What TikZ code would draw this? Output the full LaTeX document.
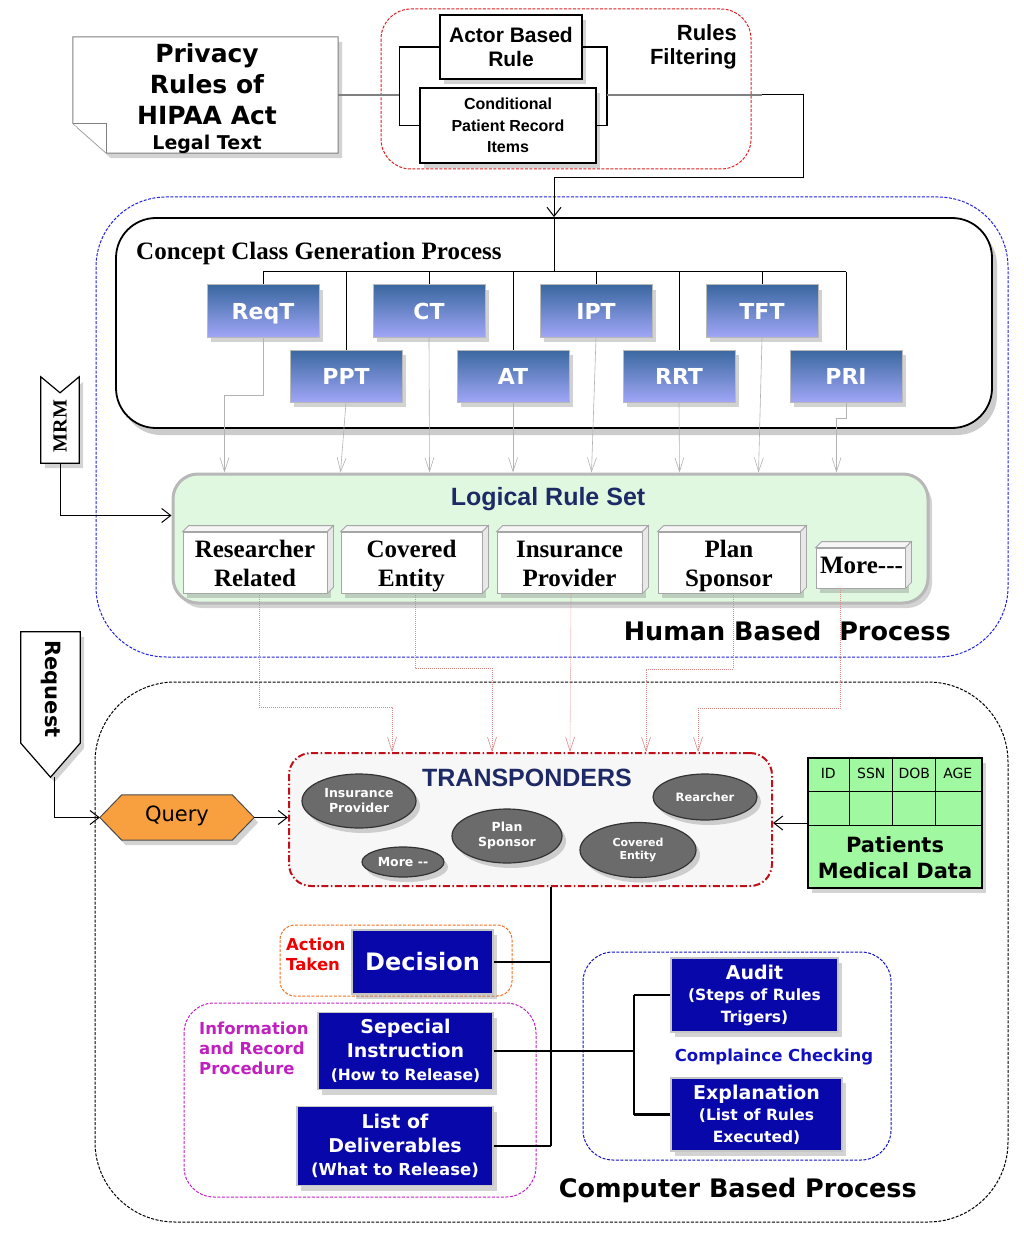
\documentclass[tikz,border=0pt]{standalone}
\usepackage{fontspec}
\setmainfont{Liberation Serif}
\newfontfamily\dvs{DejaVu Sans}
\newfontfamily\lsans{Liberation Sans}
\usetikzlibrary{arrows.meta,shadows,calc,shapes.geometric}
\newcommand\fsz[2]{\fontsize{#1}{#2}\selectfont}
\definecolor{ccTop}{HTML}{3A68A0}
\definecolor{ccBot}{HTML}{A0A6F6}
\definecolor{lrsFill}{HTML}{E0F8E0}
\definecolor{lrsDraw}{HTML}{B8B8B8}
\definecolor{navy}{HTML}{1E2A66}
\definecolor{ellGray}{HTML}{6B6B6B}
\definecolor{boxBlue}{HTML}{0808AA}
\definecolor{tblGreen}{HTML}{A0F8A0}
\definecolor{qOrange}{HTML}{F8A040}
\definecolor{pinkLine}{HTML}{E08888}
\definecolor{transRed}{HTML}{C0101A}
\definecolor{filtRed}{HTML}{E02020}
\definecolor{humBlue}{HTML}{2020E0}
\definecolor{actOrange}{HTML}{F07020}
\definecolor{actRed}{HTML}{EE0000}
\definecolor{infoMag}{HTML}{C020C0}
\definecolor{compBlue}{HTML}{1010C0}
\begin{document}
\begin{tikzpicture}[x=1pt,y=-1pt,
  shd/.style={drop shadow={shadow xshift=4pt,shadow yshift=-5pt,opacity=0.35}},
  wbox/.style={draw=black,line width=1.5pt,fill=white,shd,inner sep=0pt,align=center,font=\lsans\bfseries},
  ccbox/.style={draw=gray!55,line width=1pt,shd,top color=ccTop,bottom color=ccBot,text=white,
     font=\dvs\bfseries\fsz{22}{26},minimum width=112pt,minimum height=52pt,inner sep=0pt,
     text height=16pt,text depth=0pt},
  cube/.style={draw=gray!70,fill=white,line width=0.8pt,inner sep=0pt},
  cubetxt/.style={font=\bfseries\fsz{25}{29},align=center,inner sep=0pt},
  cubeface/.style={draw=gray!70,line width=0.8pt},
  ell/.style={ellipse,draw=black!80,line width=1.2pt,fill=ellGray,text=white,
     font=\dvs\bfseries\fsz{12.5}{15},align=center,inner sep=0pt,shd},
  bbox/.style={draw=gray!45,line width=1.5pt,fill=boxBlue,text=white,
     font=\dvs\bfseries\fsz{19}{23.5},align=center,inner sep=0pt,shd},
  garrow/.style={draw=gray!60,line width=0.6pt,-{Straight Barb[length=14pt,width=9pt]}},
  parrow/.style={draw=pinkLine,line width=0.6pt,dash pattern=on 1pt off 1pt,-{Straight Barb[length=14pt,width=9pt]}},
  barrow/.style={draw=black,line width=1pt,-{Straight Barb[length=9pt,width=14pt]}},
  thickline/.style={draw=black,line width=2.5pt},
  lbl/.style={inner sep=0pt}
]
\useasboundingbox (0,0) rectangle (1024,1238);

% ---------- outer dashed regions ----------
\draw[humBlue,line width=1pt,dash pattern=on 3pt off 1.5pt,rounded corners=70] (96,197) rectangle (1008,657);
\draw[black,line width=1pt,dash pattern=on 3pt off 1.5pt,rounded corners=80] (95,682) rectangle (1008,1222);
\draw[filtRed,line width=1pt,dash pattern=on 3pt off 1.5pt,rounded corners=30] (381,9) rectangle (751,169);

% ---------- Legal text document ----------
\path node[minimum width=265pt,minimum height=116pt,inner sep=0pt] (legal) at (205.5,95) {};
\path[shd,fill=white,draw=gray,line width=1pt] (legal.north west) -- (legal.north east) -- (legal.south east)
   -- ($(legal.south west)+(34,0)$) -- ($(legal.south west)+(0,-30)$) -- cycle;
\draw[gray,line width=1pt,fill=white] ($(legal.south west)+(0,-30)$) -- ($(legal.south west)+(34,-30)$) -- ($(legal.south west)+(34,0)$);
\node[lbl,align=center,font=\dvs\bfseries\fsz{25}{31}] (legaltxt) at (207,99)
   {Privacy\\Rules of\\HIPAA Act\\[-6pt]{\fsz{19}{23}Legal Text}};

% ---------- Rules filtering ----------
\node[wbox,minimum width=142pt,minimum height=64pt,font=\lsans\bfseries\fsz{21}{24}] (actor) at (511,47) {Actor Based\\Rule};
\node[wbox,minimum width=176pt,minimum height=75pt,font=\lsans\bfseries\fsz{16}{21.5}] (cond) at (508,125.5) {Conditional\\Patient Record\\Items};
\node[lbl,align=right,anchor=east,font=\lsans\bfseries\fsz{22}{24}] (filt) at (737,47) {Rules\\Filtering};
\draw[black,line width=1.5pt] (actor.west) -- ++(-40,0) |- (cond.west);
\draw[black,line width=1.5pt] (actor.east) -- ++(24,0) coordinate (rbtop) |- (cond.east);
\coordinate (rb) at (rbtop |- legal.east);
\coordinate (lb) at ($(actor.west)+(-40,0)$);
\draw[gray,line width=1.5pt] (legal.east) -- (lb |- legal.east);
\coordinate (k1) at ($(rb)+(155,0)$);
\draw[gray,line width=1.5pt] (rb) -- (k1);

% ---------- Concept class generation ----------
\node[draw=black,line width=1.8pt,fill=white,rounded corners=40,minimum width=876pt,minimum height=210pt,
      drop shadow={shadow xshift=5pt,shadow yshift=-7pt,opacity=0.4}] (ccg) at (554,323) {};
\node[lbl,anchor=west,font=\bfseries\fsz{25}{28}] (ccgtitle) at (136,253) {Concept Class Generation Process};
\coordinate (busin) at (554,272);
\draw[barrow] (k1) -- ++(42,0) |- (554,178) -- (ccg.north -| busin);
\draw[black,line width=1pt] (ccg.north -| busin) -- (busin);

\node[ccbox] (ReqT) at (263,311) {ReqT};
\node[ccbox] (CT)   at (429,311) {CT};
\node[ccbox] (IPT)  at (596,311) {IPT};
\node[ccbox] (TFT)  at (762,311) {TFT};
\node[ccbox] (PPT)  at (346,376) {PPT};
\node[ccbox] (AT)   at (513,376) {AT};
\node[ccbox] (RRT)  at (679,376) {RRT};
\node[ccbox] (PRI)  at (846,376) {PRI};
\draw[black,line width=1pt] (ReqT.north |- busin) -- (PRI.north |- busin);
\foreach \b in {ReqT,CT,IPT,TFT,PPT,AT,RRT,PRI}{
  \draw[black,line width=1pt] (\b.north |- busin) -- (\b.north);
}

% ---------- Logical rule set ----------
\node[draw=lrsDraw,line width=3pt,fill=lrsFill,rounded corners=25,minimum width=755pt,minimum height=129pt,shd] (lrs) at (550.5,538.5) {};
\node[lbl,font=\lsans\bfseries\fsz{25}{28},text=navy] (lrstitle) at (548,499) {Logical Rule Set};

\draw[garrow] (ReqT.south) -- ++(0,58) -| ($(lrs.north west)+(53,0)$);
\draw[garrow] (PPT.south) -- ($(lrs.north west)+(169,0)$);
\draw[garrow] (CT.south) -- ($(lrs.north west)+(258,0)$);
\draw[garrow] (AT.south) -- (AT.south |- lrs.north);
\draw[garrow] (IPT.south) -- ($(lrs.north west)+(420,0)$);
\draw[garrow] (RRT.south) -- ($(lrs.north west)+(508,0)$);
\draw[garrow] (TFT.south) -- ($(lrs.north west)+(587,0)$);
\draw[garrow] (PRI.south) -- ++(0,16) -| ($(lrs.north west)+(665,0)$);

\newcommand\cubefaces[1]{%
  \path[cubeface,fill=gray!8] (#1.north west) -- ++(6,-6) -- ($(#1.north east)+(6,-6)$) -- (#1.north east) -- cycle;
  \path[cubeface,fill=gray!18] (#1.north east) -- ++(6,-6) -- ($(#1.south east)+(6,-6)$) -- (#1.south east) -- cycle;}
\node[cube,minimum width=144pt,minimum height=61pt,shd] (RR) at (255,562.5) {};
\cubefaces{RR}
\node[cubetxt] (RRtxt) at ($(RR.center)+(0,3.5)$) {\strut Researcher\\\strut Related};
\node[cube,minimum width=141pt,minimum height=61pt,shd] (CE) at (411.5,562.5) {};
\cubefaces{CE}
\node[cubetxt] (CEtxt) at ($(CE.center)+(0,3.5)$) {\strut Covered\\\strut Entity};
\node[cube,minimum width=145pt,minimum height=61pt,shd] (IP) at (569.5,562.5) {};
\cubefaces{IP}
\node[cubetxt] (IPtxt) at ($(IP.center)+(0,3.5)$) {\strut Insurance\\\strut Provider};
\node[cube,minimum width=142pt,minimum height=61pt,shd] (PS) at (729,562.5) {};
\cubefaces{PS}
\node[cubetxt] (PStxt) at ($(PS.center)+(0,3.5)$) {\strut Plan\\\strut Sponsor};
\node[cube,minimum width=89pt,minimum height=40pt,shd] (More) at (860.5,568) {};
\cubefaces{More}
\node[cubetxt] (Moretxt) at ($(More.center)+(1,-3)$) {More-{}-{}-};

% ---------- MRM ----------
\path node[minimum width=38pt,minimum height=86pt,inner sep=0pt] (mrm) at (60,420) {};
\path[shd,fill=white,draw=black,line width=1.2pt] (mrm.north west) -- ($(mrm.north)+(0,16)$) -- (mrm.north east)
   -- (mrm.south east) -- (mrm.south west) -- cycle;
\node[lbl,rotate=90,font=\bfseries\fsz{20}{22}] (mrmtxt) at (60,426) {MRM};
\draw[barrow] (mrm.south) |- ($(lrs.west)+(0,-23)$);

\node[lbl,anchor=east,font=\dvs\bfseries\fsz{25.5}{28}] (hbp) at (951,631) {Human Based\ \ Process};

% ---------- Request / Query ----------
\path node[minimum width=59pt,minimum height=145pt,inner sep=0pt] (req) at (50.5,704.5) {};
\path[shd,fill=white,draw=black,line width=1.2pt] (req.north west) -- (req.north east) -- ($(req.south east)+(0,-34)$)
   -- (req.south) -- ($(req.south west)+(0,-34)$) -- cycle;
\node[lbl,rotate=-90,font=\dvs\bfseries\fsz{21}{24}] (reqtxt) at (51,689) {Request};

\path node[minimum width=154pt,minimum height=45pt,inner sep=0pt] (query) at (177,817.5) {};
\path[shd,fill=qOrange,draw=black!70,line width=1pt] (query.west) -- ($(query.north west)+(22,0)$) -- ($(query.north east)+(-22,0)$)
   -- (query.east) -- ($(query.south east)+(-22,0)$) -- ($(query.south west)+(22,0)$) -- cycle;
\node[lbl,font=\dvs\fsz{21}{24}] (querytxt) at (177,816) {Query};
\draw[barrow] ($(req.south)+(4,0)$) |- (query.west);

% ---------- Transponders ----------
\node[draw=transRed,line width=2pt,dash pattern=on 7pt off 2.5pt on 1.5pt off 2.5pt,fill=gray!6,rounded corners=22,
      minimum width=483pt,minimum height=133pt] (trans) at (530.5,819.5) {};
\node[lbl,font=\lsans\bfseries\fsz{25}{28},text=navy] (transtitle) at (527,778) {TRANSPONDERS};
\node[ell,minimum width=114pt,minimum height=54pt] (eIP) at (359,801) {Insurance\\Provider};
\node[ell,minimum width=104pt,minimum height=46pt,font=\dvs\bfseries\fsz{11.5}{14}] (eRe) at (705,797) {Rearcher};
\node[ell,minimum width=110pt,minimum height=54pt] (ePS) at (507,836) {Plan\\Sponsor};
\node[ell,minimum width=116pt,minimum height=55pt,font=\dvs\bfseries\fsz{11}{13}] (eCE) at (638,850) {Covered\\Entity};
\node[ell,minimum width=82pt,minimum height=30pt] (eMo) at (403,862) {More -{}-};

\draw[parrow] ($(RR.south)+(4,0)$) -- ++(0,114) -| ($(trans.north west)+(104,0)$);
\draw[parrow] ($(CE.south)+(3.5,0)$) -- ++(0,75) -| ($(trans.north west)+(204,0)$);
\draw[parrow] ($(IP.south)+(1.5,0)$) -- ($(trans.north west)+(282,0)$);
\draw[parrow] ($(PS.south)+(4,0)$) -- ++(0,76) -| ($(trans.north west)+(358,0)$);
\draw[parrow] ($(More.south)+(-20,0)$) -- ++(0,120) -| ($(trans.north west)+(410,0)$);

% ---------- Patients medical data ----------
\node[draw=black,line width=2.5pt,fill=tblGreen,minimum width=174pt,minimum height=130pt,inner sep=0pt,shd] (pmd) at (895,823) {};
\draw[black,line width=1.2pt] ($(pmd.north west)+(0,35)$) -- ($(pmd.north east)+(0,35)$);
\draw[black,line width=1.2pt] ($(pmd.north west)+(0,69)$) -- ($(pmd.north east)+(0,69)$);
\foreach \dx in {43,86,129}{
  \draw[black,line width=1.2pt] ($(pmd.north west)+(\dx,0)$) -- ++(0,69);
}
\foreach \t/\dx in {ID/21.5,SSN/64.5,DOB/107.5,AGE/151}{
  \node[lbl,font=\dvs\fsz{14}{16}] at ($(pmd.north west)+(\dx,17)$) {\t};
}
\node[lbl,align=center,font=\dvs\bfseries\fsz{21}{26}] (pmdtxt) at (895,858) {Patients\\Medical Data};
\draw[barrow] (pmd.west) -- (pmd.west -| trans.east);
\draw[barrow] (query.east) -- (query.east -| trans.west);

% ---------- group boxes (computer based) ----------
\draw[actOrange,line width=1pt,dash pattern=on 3pt off 1.5pt,rounded corners=15] (280,925) rectangle (512,996);
\draw[infoMag,line width=1pt,dash pattern=on 3pt off 1.5pt,rounded corners=30] (184,1003) rectangle (536,1197);
\draw[compBlue,line width=1pt,dash pattern=on 3pt off 1.5pt,rounded corners=30] (583,952) rectangle (891,1160);

\node[lbl,anchor=west,align=left,text=actRed,font=\dvs\bfseries\fsz{16.5}{20}] (acttxt) at (286,954) {Action\\Taken};
\node[lbl,anchor=west,align=left,text=infoMag,font=\dvs\bfseries\fsz{16.5}{20}] (infotxt) at (199,1048) {Information\\and Record\\Procedure};
\node[lbl,text=compBlue,font=\dvs\bfseries\fsz{16.5}{20}] (comptxt) at (774,1057) {Complaince Checking};

\node[bbox,minimum width=141pt,minimum height=64pt,font=\dvs\bfseries\fsz{24}{28}] (Dec) at (422.5,962) {Decision};
\node[bbox,minimum width=175pt,minimum height=77pt] (Spec) at (405.5,1051) {Sepecial\\Instruction\\{\fsz{15.5}{18}(How to Release)}};
\node[bbox,minimum width=196pt,minimum height=79pt] (List) at (395,1146) {List of\\Deliverables\\{\fsz{16.5}{18}(What to Release)}};
\node[bbox,minimum width=167pt,minimum height=74pt,font=\dvs\bfseries\fsz{19}{21.5}] (Audit) at (754.5,995) {Audit\\{\fsz{15.5}{18}(Steps of Rules}\\{\fsz{15.5}{18}Trigers)}};
\node[bbox,minimum width=171pt,minimum height=73pt,font=\dvs\bfseries\fsz{19}{21.5}] (Expl) at (756.5,1114.5) {Explanation\\{\fsz{15.5}{18}(List of Rules}\\{\fsz{15.5}{18}Executed)}};

\coordinate (tb) at ($(trans.south)+(20.5,0)$);
\draw[thickline] (tb) -- (List.east -| tb);
\draw[thickline] (Dec.east) -- (Dec.east -| tb);
\draw[thickline] (Spec.east) -- (Spec.east -| tb);
\draw[thickline] (List.east) -- (List.east -| tb);
\draw[thickline] (Spec.east -| tb) -- ++(83,0) coordinate (jn);
\draw[thickline] (Audit.west -| jn) -- (Expl.west -| jn);
\draw[thickline] (Audit.west -| jn) -- (Audit.west);
\draw[thickline] (Expl.west -| jn) -- (Expl.west);

\node[lbl,anchor=east,font=\dvs\bfseries\fsz{25.5}{28}] (cbp) at (917,1190) {Computer Based Process};
\end{tikzpicture}
\end{document}
